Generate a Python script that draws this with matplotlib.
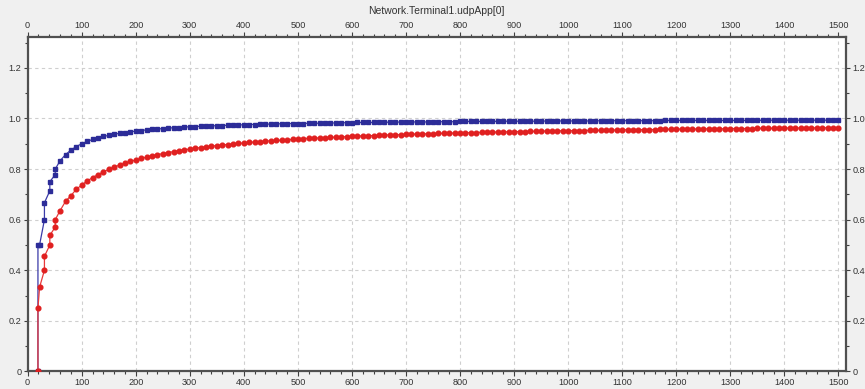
import numpy as np
import matplotlib
matplotlib.use("Agg")
import matplotlib.pyplot as plt
from matplotlib.ticker import MultipleLocator

# first few samples come in pairs (two values at nearly the same time)
early_t = [19, 19, 22, 31, 31, 41, 41, 51, 51]
blue_early = [0.0, 0.5, 0.5, 0.6, 0.667, 0.714, 0.75, 0.778, 0.8]
red_early = [0.0, 0.25, 0.333, 0.4, 0.455, 0.5, 0.538, 0.571, 0.6]

# after that one sample every 10 s, from 60 to 1500
t = np.arange(60, 1501, 10)
blue_vals = [
    0.833, 0.857, 0.875, 0.889, 0.900, 0.909, 0.917, 0.923, 0.929, 0.933,
    0.938, 0.941, 0.944, 0.947, 0.950, 0.952, 0.955, 0.957, 0.958, 0.960,
    0.962, 0.963, 0.964, 0.966, 0.967, 0.968, 0.969, 0.970, 0.971, 0.971,
    0.972, 0.973, 0.974, 0.974, 0.975, 0.976, 0.976, 0.977, 0.977, 0.978,
    0.978, 0.979, 0.979, 0.980, 0.980, 0.980, 0.981, 0.981, 0.981, 0.982,
    0.982, 0.982, 0.983, 0.983, 0.983, 0.984, 0.984, 0.984, 0.984, 0.985,
    0.985, 0.985, 0.985, 0.986, 0.986, 0.986, 0.986, 0.986, 0.986, 0.987,
    0.987, 0.987, 0.987, 0.987, 0.988, 0.988, 0.988, 0.988, 0.988, 0.988,
    0.988, 0.989, 0.989, 0.989, 0.989, 0.989, 0.989, 0.989, 0.989, 0.989,
    0.990, 0.990, 0.990, 0.990, 0.990, 0.990, 0.990, 0.990, 0.990, 0.990,
    0.991, 0.991, 0.991, 0.991, 0.991, 0.991, 0.991, 0.991, 0.991, 0.991,
    0.991, 0.991, 0.992, 0.992, 0.992, 0.992, 0.992, 0.992, 0.992, 0.992,
    0.992, 0.992, 0.992, 0.992, 0.992, 0.992, 0.992, 0.992, 0.992, 0.992,
    0.993, 0.993, 0.993, 0.993, 0.993, 0.993, 0.993, 0.993, 0.993, 0.993,
    0.993, 0.993, 0.993, 0.993, 0.993,
]
red_vals = [
    0.636, 0.672, 0.695, 0.720, 0.737, 0.753, 0.766, 0.778, 0.789, 0.799,
    0.808, 0.816, 0.823, 0.830, 0.836, 0.842, 0.847, 0.852, 0.857, 0.861,
    0.865, 0.869, 0.873, 0.876, 0.879, 0.882, 0.885, 0.888, 0.890, 0.893,
    0.895, 0.897, 0.899, 0.901, 0.903, 0.905, 0.907, 0.908, 0.910, 0.912,
    0.913, 0.914, 0.916, 0.917, 0.918, 0.920, 0.921, 0.922, 0.923, 0.924,
    0.925, 0.926, 0.927, 0.928, 0.929, 0.930, 0.931, 0.932, 0.932, 0.933,
    0.934, 0.935, 0.935, 0.936, 0.937, 0.938, 0.938, 0.939, 0.939, 0.940,
    0.941, 0.941, 0.942, 0.942, 0.943, 0.943, 0.944, 0.944, 0.945, 0.945,
    0.946, 0.946, 0.947, 0.947, 0.948, 0.948, 0.948, 0.949, 0.949, 0.950,
    0.950, 0.950, 0.951, 0.951, 0.951, 0.952, 0.952, 0.952, 0.953, 0.953,
    0.953, 0.954, 0.954, 0.954, 0.955, 0.955, 0.955, 0.955, 0.956, 0.956,
    0.956, 0.957, 0.957, 0.957, 0.957, 0.958, 0.958, 0.958, 0.958, 0.958,
    0.959, 0.959, 0.959, 0.959, 0.960, 0.960, 0.960, 0.960, 0.960, 0.961,
    0.961, 0.961, 0.961, 0.961, 0.962, 0.962, 0.962, 0.962, 0.962, 0.962,
    0.963, 0.963, 0.963, 0.963, 0.963,
]

title = "Network.Terminal1.udpApp[0]"

blue_x = np.concatenate([early_t, t])
blue_y = np.concatenate([blue_early, blue_vals])
red_x = np.concatenate([early_t, t])
red_y = np.concatenate([red_early, red_vals])

plt.rcParams['font.family'] = ['Liberation Sans', 'DejaVu Sans']

fig = plt.figure(figsize=(8.65, 3.89), dpi=100, facecolor='#f0f0f0')
ax = fig.add_axes([0.032, 0.045, 0.946, 0.86])
ax.set_facecolor('white')

ax.plot(blue_x, blue_y, color='#3a3aa8', lw=0.9, marker='s', ms=3.3,
        mec='#2c2c98', mfc='#2c2c98', zorder=3)
ax.plot(red_x, red_y, color='#e8393a', lw=0.9, marker='o', ms=3.4,
        mec='#e02020', mfc='#e02020', zorder=4)

ax.set_xlim(0, 1514)
ax.set_ylim(0, 1.322)
ax.xaxis.set_major_locator(MultipleLocator(100))
ax.xaxis.set_minor_locator(MultipleLocator(20))
ax.yaxis.set_major_locator(MultipleLocator(0.2))
ax.yaxis.set_minor_locator(MultipleLocator(0.1))

def ylab(v, pos):
    if abs(v) < 1e-9:
        return "0"
    return f"{v:.1f}"
ax.yaxis.set_major_formatter(plt.FuncFormatter(ylab))

ax.tick_params(which='both', top=True, right=True, labeltop=True, labelright=True,
               direction='out', colors='#404040', labelcolor='#333333', labelsize=6.6)
ax.tick_params(which='major', length=3.5, width=0.8, pad=1.5)
ax.tick_params(which='minor', length=2, width=0.8)
ax.tick_params(axis='y', which='major', length=3, pad=1.5)

ax.grid(True, which='major', color='#cfcfcf', lw=0.8, ls=(0, (3, 3)))
ax.set_axisbelow(True)

for s in ax.spines.values():
    s.set_color('#505050')
    s.set_linewidth(1.6)

fig.text(0.505, 0.972, title, ha='center', va='center', fontsize=7.5, color='#333333')

fig.savefig('out.png', dpi=100, facecolor=fig.get_facecolor())
